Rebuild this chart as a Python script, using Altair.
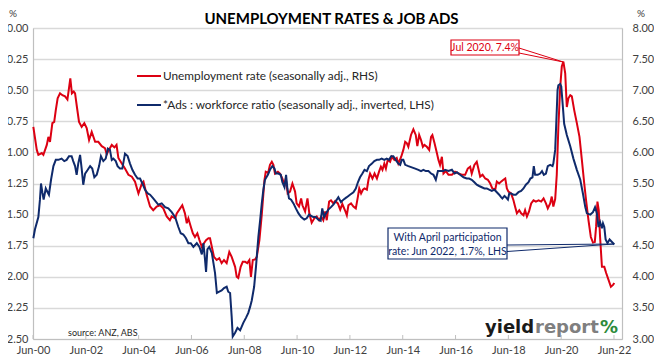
import altair as alt
import pandas as pd

# ---------------- data ----------------
# Unemployment rate (seasonally adj., RHS), decimal year -> %
red_years = [2000.43, 2000.56, 2000.62, 2000.75, 2000.81, 2000.94, 2001.00, 2001.06, 2001.15, 2001.22,
             2001.28, 2001.35, 2001.44, 2001.53, 2001.63, 2001.72, 2001.77, 2001.83, 2001.89, 2001.96,
             2002.01, 2002.08, 2002.16, 2002.26, 2002.36, 2002.45, 2002.54, 2002.64, 2002.77, 2002.89,
             2003.02, 2003.14, 2003.21, 2003.29, 2003.40, 2003.50, 2003.58, 2003.65, 2003.78, 2003.90,
             2004.03, 2004.16, 2004.28, 2004.41, 2004.54, 2004.60, 2004.72, 2004.85, 2004.97, 2005.10,
             2005.23, 2005.35, 2005.48, 2005.60, 2005.67, 2005.80, 2005.86, 2005.99, 2006.07, 2006.17,
             2006.24, 2006.30, 2006.39, 2006.47, 2006.55, 2006.64, 2006.72, 2006.81, 2006.89, 2006.97,
             2007.06, 2007.12, 2007.19, 2007.27, 2007.37, 2007.47, 2007.56, 2007.65, 2007.75, 2007.85,
             2007.94, 2008.07, 2008.13, 2008.19, 2008.28, 2008.36, 2008.45, 2008.53, 2008.61, 2008.67,
             2008.74, 2008.83, 2008.89, 2008.99, 2009.08, 2009.18, 2009.23, 2009.32, 2009.39, 2009.46,
             2009.52, 2009.58, 2009.69, 2009.77, 2009.86, 2009.94, 2009.99, 2010.06, 2010.15, 2010.24,
             2010.34, 2010.40, 2010.49, 2010.57, 2010.62, 2010.72, 2010.81, 2010.88, 2010.97, 2011.07,
             2011.16, 2011.25, 2011.33, 2011.41, 2011.48, 2011.54, 2011.63, 2011.70, 2011.79, 2011.86,
             2011.96, 2012.05, 2012.13, 2012.23, 2012.30, 2012.36, 2012.46, 2012.55, 2012.64, 2012.72,
             2012.77, 2012.84, 2012.91, 2012.97, 2013.06, 2013.12, 2013.18, 2013.27, 2013.35, 2013.44,
             2013.52, 2013.59, 2013.65, 2013.72, 2013.78, 2013.85, 2013.94, 2014.00, 2014.10, 2014.19,
             2014.25, 2014.36, 2014.44, 2014.51, 2014.57, 2014.63, 2014.73, 2014.82, 2014.91, 2014.97,
             2015.04, 2015.11, 2015.18, 2015.24, 2015.33, 2015.42, 2015.49, 2015.54, 2015.62, 2015.71,
             2015.77, 2015.83, 2015.90, 2015.96, 2016.05, 2016.15, 2016.28, 2016.40, 2016.53, 2016.65,
             2016.78, 2016.88, 2016.97, 2017.03, 2017.13, 2017.22, 2017.28, 2017.35, 2017.44, 2017.54,
             2017.64, 2017.73, 2017.81, 2017.92, 2017.98, 2018.07, 2018.14, 2018.23, 2018.30, 2018.36,
             2018.42, 2018.52, 2018.61, 2018.67, 2018.74, 2018.83, 2018.90, 2018.99, 2019.05, 2019.12,
             2019.20, 2019.28, 2019.37, 2019.46, 2019.56, 2019.66, 2019.75, 2019.84, 2019.91, 2020.00,
             2020.06, 2020.12, 2020.19, 2020.25, 2020.31, 2020.38, 2020.44, 2020.50, 2020.57, 2020.63,
             2020.69, 2020.76, 2020.82, 2020.91, 2021.01, 2021.11, 2021.20, 2021.29, 2021.36, 2021.45,
             2021.54, 2021.62, 2021.69, 2021.74, 2021.79, 2021.84, 2021.89, 2021.96, 2022.05, 2022.12,
             2022.21, 2022.30, 2022.38, 2022.43]
red_vals = [6.41, 6.04, 5.96, 5.99, 5.96, 6.12, 6.25, 6.17, 6.47, 6.49,
            6.68, 6.87, 6.95, 6.92, 6.90, 6.85, 7.00, 7.19, 6.95, 6.98,
            6.95, 6.73, 6.49, 6.41, 6.47, 6.39, 6.20, 6.33, 6.17, 6.17,
            6.10, 6.07, 5.97, 6.04, 6.12, 6.08, 6.12, 5.91, 5.82, 5.74,
            5.64, 5.61, 5.53, 5.34, 5.50, 5.53, 5.32, 5.13, 5.07, 5.13,
            5.15, 5.10, 4.97, 4.91, 4.97, 4.94, 5.02, 5.10, 5.15, 5.02,
            4.86, 4.94, 4.81, 4.70, 4.64, 4.70, 4.59, 4.48, 4.54, 4.59,
            4.62, 4.62, 4.48, 4.32, 4.27, 4.30, 4.22, 4.27, 4.22, 4.40,
            4.32, 4.16, 4.00, 3.98, 4.16, 4.24, 4.24, 4.22, 4.27, 4.00,
            4.27, 4.28, 4.32, 4.59, 5.00, 5.55, 5.69, 5.67, 5.80, 5.85,
            5.80, 5.66, 5.69, 5.66, 5.58, 5.48, 5.58, 5.34, 5.37, 5.50,
            5.37, 5.18, 5.13, 5.26, 5.15, 5.05, 5.26, 5.02, 4.87, 4.94,
            4.97, 4.91, 4.97, 4.91, 5.05, 4.91, 5.21, 5.23, 5.18, 5.22,
            5.18, 5.08, 5.17, 5.07, 4.99, 5.15, 5.18, 5.13, 5.10, 5.29,
            5.42, 5.34, 5.40, 5.42, 5.40, 5.56, 5.66, 5.58, 5.66, 5.58,
            5.69, 5.77, 5.72, 5.82, 5.74, 5.88, 5.85, 5.93, 5.88, 5.91,
            5.82, 5.93, 6.04, 6.17, 6.15, 6.09, 6.28, 6.37, 6.28, 6.10,
            6.28, 6.20, 6.09, 6.12, 6.09, 6.04, 6.25, 6.28, 6.15, 5.99,
            5.88, 5.80, 5.93, 5.66, 5.70, 5.64, 5.64, 5.69, 5.66, 5.64,
            5.64, 5.74, 5.77, 5.66, 5.80, 5.85, 5.74, 5.61, 5.64, 5.58,
            5.56, 5.50, 5.42, 5.40, 5.53, 5.50, 5.53, 5.56, 5.58, 5.42,
            5.37, 5.34, 5.23, 5.13, 5.02, 5.07, 5.02, 4.99, 5.07, 4.97,
            5.05, 5.18, 5.23, 5.21, 5.23, 5.21, 5.26, 5.18, 5.10, 5.18,
            5.29, 5.13, 5.25, 5.64, 6.40, 7.05, 7.38, 7.46, 7.27, 6.73,
            6.87, 6.92, 6.90, 6.68, 6.47, 6.25, 5.88, 5.50, 5.23, 4.91,
            4.64, 4.55, 4.56, 4.81, 5.21, 5.07, 4.64, 4.16, 4.16, 4.06,
            3.95, 3.84, 3.87, 3.90]

# *Ads : workforce ratio (seasonally adj., inverted, LHS), decimal year -> %
blue_years = [2000.43, 2000.49, 2000.62, 2000.68, 2000.72, 2000.77, 2000.82, 2000.90, 2000.97, 2001.02,
              2001.10, 2001.19, 2001.28, 2001.38, 2001.50, 2001.60, 2001.69, 2001.78, 2001.88, 2001.94,
              2002.01, 2002.07, 2002.13, 2002.20, 2002.26, 2002.32, 2002.39, 2002.49, 2002.58, 2002.66,
              2002.74, 2002.83, 2002.92, 2002.99, 2003.08, 2003.17, 2003.25, 2003.33, 2003.40, 2003.46,
              2003.55, 2003.62, 2003.71, 2003.80, 2003.90, 2004.00, 2004.09, 2004.18, 2004.28, 2004.38,
              2004.47, 2004.56, 2004.66, 2004.76, 2004.85, 2004.97, 2005.16, 2005.29, 2005.42, 2005.54,
              2005.67, 2005.80, 2005.92, 2006.01, 2006.11, 2006.21, 2006.30, 2006.39, 2006.49, 2006.62,
              2006.72, 2006.81, 2006.87, 2006.93, 2006.97, 2007.02, 2007.09, 2007.19, 2007.25, 2007.31,
              2007.38, 2007.47, 2007.56, 2007.65, 2007.75, 2007.81, 2007.88, 2007.94, 2007.98, 2008.07,
              2008.16, 2008.26, 2008.32, 2008.38, 2008.48, 2008.57, 2008.64, 2008.70, 2008.79, 2008.86,
              2008.95, 2009.02, 2009.08, 2009.14, 2009.20, 2009.31, 2009.39, 2009.48, 2009.56, 2009.61,
              2009.71, 2009.80, 2009.86, 2009.94, 2010.00, 2010.05, 2010.11, 2010.19, 2010.28, 2010.37,
              2010.47, 2010.57, 2010.69, 2010.78, 2010.87, 2010.95, 2011.03, 2011.12, 2011.22, 2011.31,
              2011.37, 2011.44, 2011.51, 2011.60, 2011.70, 2011.79, 2011.86, 2011.98, 2012.08, 2012.17,
              2012.30, 2012.42, 2012.55, 2012.64, 2012.72, 2012.80, 2012.89, 2012.97, 2013.06, 2013.14,
              2013.25, 2013.34, 2013.44, 2013.52, 2013.62, 2013.72, 2013.81, 2013.90, 2013.98, 2014.06,
              2014.15, 2014.25, 2014.32, 2014.38, 2014.44, 2014.51, 2014.63, 2014.76, 2014.89, 2015.01,
              2015.11, 2015.20, 2015.29, 2015.39, 2015.49, 2015.58, 2015.67, 2015.75, 2015.83, 2015.96,
              2016.02, 2016.15, 2016.28, 2016.38, 2016.47, 2016.59, 2016.72, 2016.84, 2016.93, 2017.03,
              2017.13, 2017.22, 2017.31, 2017.41, 2017.51, 2017.60, 2017.69, 2017.79, 2017.89, 2017.98,
              2018.07, 2018.14, 2018.19, 2018.27, 2018.32, 2018.40, 2018.45, 2018.52, 2018.61, 2018.70,
              2018.80, 2018.90, 2018.99, 2019.08, 2019.18, 2019.25, 2019.33, 2019.38, 2019.43, 2019.53,
              2019.62, 2019.69, 2019.76, 2019.84, 2019.91, 2020.00, 2020.09, 2020.12, 2020.19, 2020.23,
              2020.28, 2020.31, 2020.38, 2020.42, 2020.48, 2020.53, 2020.63, 2020.76, 2020.88, 2021.01,
              2021.14, 2021.24, 2021.33, 2021.39, 2021.52, 2021.62, 2021.70, 2021.77, 2021.83, 2021.89,
              2021.96, 2022.00, 2022.05, 2022.10, 2022.17, 2022.25, 2022.34, 2022.43]
blue_vals = [1.69, 1.62, 1.52, 1.38, 1.25, 1.32, 1.38, 1.29, 1.32, 1.34,
             1.22, 1.11, 1.06, 1.06, 1.05, 1.07, 1.06, 1.03, 1.03, 1.07,
             1.11, 1.18, 1.09, 1.02, 1.13, 1.26, 1.17, 1.14, 1.11, 1.13,
             1.20, 1.18, 1.11, 1.03, 1.07, 1.05, 0.97, 0.98, 1.06, 1.05,
             1.07, 1.11, 1.13, 1.13, 1.01, 1.03, 1.09, 1.14, 1.18, 1.21,
             1.21, 1.25, 1.30, 1.33, 1.34, 1.37, 1.42, 1.41, 1.44, 1.45,
             1.48, 1.52, 1.60, 1.65, 1.66, 1.69, 1.73, 1.73, 1.76, 1.73,
             1.76, 1.82, 1.73, 1.86, 1.96, 1.78, 1.76, 1.81, 1.89, 1.97,
             2.13, 2.12, 2.11, 2.09, 2.08, 2.12, 2.13, 2.32, 2.48, 2.45,
             2.41, 2.43, 2.40, 2.37, 2.33, 2.29, 2.24, 2.19, 2.08, 1.92,
             1.68, 1.54, 1.41, 1.30, 1.22, 1.18, 1.14, 1.11, 1.13, 1.17,
             1.17, 1.18, 1.24, 1.28, 1.18, 1.29, 1.37, 1.38, 1.41, 1.45,
             1.49, 1.52, 1.54, 1.53, 1.50, 1.51, 1.52, 1.52, 1.54, 1.55,
             1.45, 1.52, 1.49, 1.46, 1.44, 1.42, 1.40, 1.36, 1.40, 1.38,
             1.36, 1.34, 1.32, 1.29, 1.24, 1.20, 1.17, 1.14, 1.15, 1.11,
             1.09, 1.07, 1.06, 1.06, 1.05, 1.06, 1.05, 1.06, 1.03, 1.03,
             1.06, 1.09, 1.10, 1.06, 1.06, 1.10, 1.11, 1.12, 1.13, 1.14,
             1.15, 1.14, 1.15, 1.15, 1.17, 1.18, 1.22, 1.15, 1.15, 1.15,
             1.14, 1.15, 1.14, 1.17, 1.16, 1.18, 1.20, 1.21, 1.21, 1.22,
             1.24, 1.26, 1.27, 1.28, 1.29, 1.29, 1.30, 1.31, 1.30, 1.32,
             1.34, 1.36, 1.37, 1.35, 1.36, 1.38, 1.33, 1.33, 1.34, 1.34,
             1.32, 1.31, 1.29, 1.26, 1.24, 1.21, 1.20, 1.11, 1.18, 1.18,
             1.17, 1.15, 1.18, 1.17, 1.11, 1.10, 1.11, 1.09, 0.98, 0.77,
             0.50, 0.46, 0.45, 0.47, 0.63, 0.77, 0.86, 0.95, 1.05, 1.14,
             1.22, 1.33, 1.44, 1.49, 1.50, 1.48, 1.44, 1.49, 1.60, 1.56,
             1.61, 1.57, 1.60, 1.70, 1.73, 1.70, 1.72, 1.74]

left_ticks = [0.00, 0.25, 0.50, 0.75, 1.00, 1.25, 1.50, 1.75, 2.00, 2.25, 2.50]
right_ticks = [3.00, 3.50, 4.00, 4.50, 5.00, 5.50, 6.00, 6.50, 7.00, 7.50, 8.00]
x_tick_years = [2000.417, 2002.417, 2004.417, 2006.417, 2008.417, 2010.417,
                2012.417, 2014.417, 2016.417, 2018.417, 2020.417, 2022.417]

title_text = "UNEMPLOYMENT RATES & JOB ADS"
legend_red = "Unemployment rate (seasonally adj., RHS)"
legend_blue = "*Ads : workforce ratio (seasonally adj., inverted, LHS)"
note_red = "Jul 2020, 7.4%"
note_blue = ["With April participation", "rate: Jun 2022, 1.7%, LHS"]
source_text = "source: ANZ, ABS"

# ---------------- chart ----------------
RED = "#DC0012"
NAVY = "#0F2A6B"
FONT = "Lato"
AXFONT = "Liberation Sans Narrow, Lato"

red_df = pd.DataFrame({"yr": red_years, "v": red_vals})
blue_df = pd.DataFrame({"yr": blue_years, "v": blue_vals})
tick_df = pd.DataFrame({"yr": x_tick_years})
one = pd.DataFrame({"a": [0]})

W, H = 589, 311
xscale = alt.Scale(domain=[2000.417, 2022.72], nice=False, zero=False)

x_axis = alt.Axis(values=x_tick_years, title=None, grid=False, ticks=False,
                  labelExpr="'Jun-' + (floor(datum.value) % 100 < 10 ? '0' : '') + (floor(datum.value) % 100)",
                  labelFlush=False, labelOverlap=False, labelPadding=5, labelBound=False,
                  domainColor="#BFBFBF", domainWidth=1.2,
                  labelColor="#404040", labelFontSize=11, labelFont=AXFONT)

red_line = alt.Chart(red_df).mark_line(color=RED, strokeWidth=2).encode(
    x=alt.X("yr:Q", scale=xscale, axis=x_axis),
    y=alt.Y("v:Q", scale=alt.Scale(domain=[3, 8], nice=False, zero=False),
            axis=alt.Axis(orient="right", values=right_ticks, format=".2f", title=None,
                          grid=False, ticks=False, labelPadding=10,
                          domainColor="#BFBFBF", domainWidth=1.2,
                          labelColor="#404040", labelFontSize=11, labelFont=AXFONT)),
)

blue_line = alt.Chart(blue_df).mark_line(color=NAVY, strokeWidth=2).encode(
    x=alt.X("yr:Q", scale=xscale),
    y=alt.Y("v:Q", scale=alt.Scale(domain=[0, 2.5], reverse=True, nice=False, zero=False),
            axis=alt.Axis(orient="left", values=left_ticks, format=".2f", title=None,
                          grid=True, gridColor="#D9D9D9", gridWidth=1.4,
                          ticks=False, labelPadding=5,
                          domainColor="#BFBFBF", domainWidth=1.2,
                          labelColor="#404040", labelFontSize=11, labelFont=AXFONT)),
)

x_ticks = alt.Chart(tick_df).mark_rule(color="#BFBFBF", strokeWidth=1).encode(
    x=alt.X("yr:Q", scale=xscale), y=alt.value(H - 4), y2=alt.value(H))


def px(x):
    return x - 33


def py(y):
    return y - 28


def txt(s, x, y, size=11, color="#262626", align="left", weight="normal", font=FONT, baseline="middle"):
    return alt.Chart(one).mark_text(text=s, align=align, baseline=baseline, fontSize=size, color=color,
                                    fontWeight=weight, font=font).encode(
        x=alt.value(px(x)), y=alt.value(py(y)))


def seg(x1, y1, x2, y2, color, width=1.0):
    return alt.Chart(one).mark_rule(color=color, strokeWidth=width).encode(
        x=alt.value(px(x1)), y=alt.value(py(y1)), x2=alt.value(px(x2)), y2=alt.value(py(y2)))


def box(x1, y1, x2, y2, color):
    return alt.Chart(one).mark_rect(fill="white", stroke=color, strokeWidth=1.2).encode(
        x=alt.value(px(x1)), y=alt.value(py(y1)), x2=alt.value(px(x2)), y2=alt.value(py(y2)))


layers = [
    x_ticks,
    red_line,
    blue_line,
    # title and unit labels
    txt(title_text, 331.5, 11.5, size=15, color="#000000", align="center", weight="bold",
        baseline="top"),
    txt("%", 13, 8.5, size=10, color="#404040", align="center", font=AXFONT, baseline="top"),
    txt("%", 641, 9, size=10, color="#404040", align="center", font=AXFONT, baseline="top"),
    # legend
    seg(137, 76, 161, 76, RED, 2),
    txt(legend_red, 163, 76, size=11.8, color="#262626"),
    seg(137, 105, 161, 105, NAVY, 2),
    txt(legend_blue, 163, 105, size=11.8, color="#262626"),
    # red callout
    seg(519, 48, 563.3, 62, RED, 1),
    seg(519, 53, 563.3, 62, RED, 1),
    box(451, 40, 519, 55, RED),
    txt(note_red, 485, 47.5, size=10.5, color=RED, align="center"),
    # blue callout
    seg(507, 245, 614, 244, NAVY, 1),
    seg(507, 251.5, 614, 244, NAVY, 1),
    box(388, 228, 507, 259, NAVY),
    txt(note_blue[0], 447.5, 237.5, size=10.5, color=NAVY, align="center"),
    txt(note_blue[1], 447.5, 251.5, size=10.5, color=NAVY, align="center"),
    # source + logo
    txt(source_text, 68, 333, size=9, color="#262626"),
    txt("yield", 485, 333, size=18, color="#1A1A1A", weight="bold", font="DejaVu Sans", baseline="alphabetic"),
    txt("report", 535, 333, size=18, color="#7F7F7F", weight="bold", font="DejaVu Sans", baseline="alphabetic"),
    txt("%", 600, 333, size=18, color="#2E8B3A", weight="bold", font="DejaVu Sans", baseline="alphabetic"),
]

chart = alt.layer(*layers).resolve_scale(y="independent").properties(
    width=W, height=H,
    autosize=alt.AutoSizeParams(type="none"),
    padding={"left": 25, "top": 20, "right": 32, "bottom": 16},
).configure_view(stroke=None).configure(background="white")

chart.save("out.html", embed_options={"renderer": "svg", "actions": False})
